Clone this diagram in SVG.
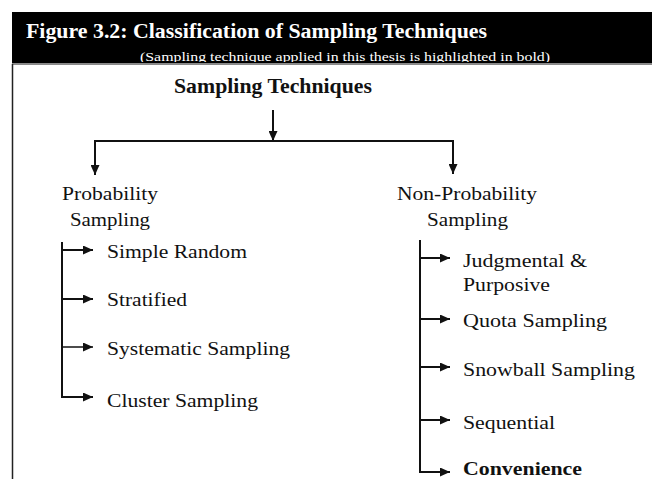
<svg xmlns="http://www.w3.org/2000/svg" width="652" height="479" viewBox="0 0 652 479">
  <style>
    .t { font-family: "Liberation Serif", "Times New Roman", Tinos, serif; fill: #111; }
    .lbl { font-size: 19px; }
    .bold { font-weight: bold; }
    .hdr { font-family: "Liberation Serif", "Times New Roman", Tinos, serif; fill: #fff; }
    .wire { stroke: #111; stroke-width: 2; fill: none; }
  </style>
  <defs>
    <marker id="ah" viewBox="0 0 10 10" refX="10" refY="5" markerWidth="10" markerHeight="9" markerUnits="userSpaceOnUse" orient="auto" preserveAspectRatio="none">
      <path d="M0,0 L10,5 L0,10 Z" fill="#111"/>
    </marker>
    <clipPath id="hdrclip"><rect x="12" y="12" width="640" height="50"/></clipPath>
  </defs>

  <rect width="652" height="479" fill="#fff"/>

  <!-- title band -->
  <g id="header">
    <rect x="12" y="12" width="640" height="51" fill="#000"/>
    <text class="hdr bold" x="26" y="38" font-size="20" textLength="461" lengthAdjust="spacingAndGlyphs">Figure 3.2: Classification of Sampling Techniques</text>
    <g clip-path="url(#hdrclip)">
      <text class="hdr" x="140" y="61" font-size="12.5" textLength="410" lengthAdjust="spacingAndGlyphs">(Sampling technique applied in this thesis is highlighted in bold)</text>
    </g>
    <line x1="12" y1="64" x2="652" y2="64" stroke="#8a8a8a" stroke-width="2"/>
    <line x1="12.5" y1="64" x2="12.5" y2="479" stroke="#222" stroke-width="1.5"/>
  </g>

  <!-- connectors -->
  <g id="connectors" class="wire">
    <line x1="273" y1="110" x2="273" y2="141" marker-end="url(#ah)"/>
    <line x1="95" y1="141" x2="453" y2="141"/>
    <line x1="95" y1="140" x2="95" y2="175" marker-end="url(#ah)"/>
    <line x1="453" y1="140" x2="453" y2="174" marker-end="url(#ah)"/>

    <!-- probability branch -->
    <line x1="62" y1="242" x2="62" y2="398"/>
    <line x1="61" y1="250" x2="93" y2="250" marker-end="url(#ah)"/>
    <line x1="61" y1="299" x2="93" y2="299" marker-end="url(#ah)"/>
    <line x1="61" y1="347" x2="93" y2="347" marker-end="url(#ah)" stroke-width="1.5"/>
    <line x1="61" y1="397" x2="93" y2="397" marker-end="url(#ah)"/>

    <!-- non-probability branch -->
    <line x1="420" y1="240" x2="420" y2="473"/>
    <line x1="419" y1="258" x2="450" y2="258" marker-end="url(#ah)"/>
    <line x1="419" y1="319" x2="450" y2="319" marker-end="url(#ah)"/>
    <line x1="419" y1="367" x2="450" y2="367" marker-end="url(#ah)"/>
    <line x1="419" y1="420" x2="450" y2="420" marker-end="url(#ah)"/>
    <line x1="419" y1="472" x2="450" y2="472" marker-end="url(#ah)"/>
  </g>

  <g id="root">
    <text class="t bold" x="174" y="93" font-size="21" textLength="198" lengthAdjust="spacingAndGlyphs">Sampling Techniques</text>
  </g>

  <g id="probability">
    <text class="t lbl" x="62" y="200" textLength="96" lengthAdjust="spacingAndGlyphs">Probability</text>
    <text class="t lbl" x="70" y="226" textLength="80" lengthAdjust="spacingAndGlyphs">Sampling</text>
  </g>
  <g id="simple-random"><text class="t lbl" x="107" y="258" textLength="140" lengthAdjust="spacingAndGlyphs">Simple Random</text></g>
  <g id="stratified"><text class="t lbl" x="107" y="306" textLength="80" lengthAdjust="spacingAndGlyphs">Stratified</text></g>
  <g id="systematic"><text class="t lbl" x="107" y="355" textLength="183" lengthAdjust="spacingAndGlyphs">Systematic Sampling</text></g>
  <g id="cluster"><text class="t lbl" x="107" y="407" textLength="151" lengthAdjust="spacingAndGlyphs">Cluster Sampling</text></g>

  <g id="non-probability">
    <text class="t lbl" x="397" y="200" textLength="140" lengthAdjust="spacingAndGlyphs">Non-Probability</text>
    <text class="t lbl" x="427" y="226" textLength="81" lengthAdjust="spacingAndGlyphs">Sampling</text>
  </g>
  <g id="judgmental">
    <text class="t lbl" x="463" y="267" textLength="124" lengthAdjust="spacingAndGlyphs">Judgmental &amp;</text>
    <text class="t lbl" x="463" y="291" textLength="87" lengthAdjust="spacingAndGlyphs">Purposive</text>
  </g>
  <g id="quota"><text class="t lbl" x="463" y="327" textLength="144" lengthAdjust="spacingAndGlyphs">Quota Sampling</text></g>
  <g id="snowball"><text class="t lbl" x="463" y="376" textLength="172" lengthAdjust="spacingAndGlyphs">Snowball Sampling</text></g>
  <g id="sequential"><text class="t lbl" x="463" y="429" textLength="92" lengthAdjust="spacingAndGlyphs">Sequential</text></g>
  <g id="convenience"><text class="t lbl bold" x="463" y="475" textLength="119" lengthAdjust="spacingAndGlyphs">Convenience</text></g>
</svg>
